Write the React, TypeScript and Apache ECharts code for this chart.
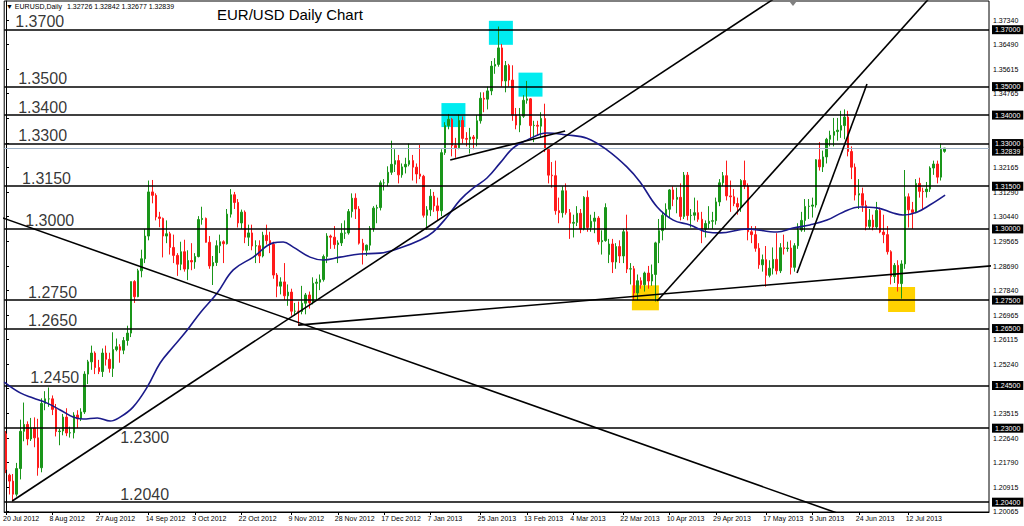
import React, { useEffect, useRef } from "react";
import * as echarts from "echarts";

// ---------- DATA ----------
const START_DATE = "2012-07-20";
const HOLIDAYS = ["2012-12-25", "2013-01-01"];
const TOTAL_SLOTS = 276; // 264 bars + empty chart shift

const DATE_LABELS = [
  "20 Jul 2012", "8 Aug 2012", "27 Aug 2012", "14 Sep 2012", "3 Oct 2012", "22 Oct 2012",
  "9 Nov 2012", "28 Nov 2012", "17 Dec 2012", "7 Jan 2013", "25 Jan 2013", "13 Feb 2013",
  "4 Mar 2013", "22 Mar 2013", "10 Apr 2013", "29 Apr 2013", "17 May 2013", "5 Jun 2013",
  "24 Jun 2013", "12 Jul 2013",
];

const Y_TICKS = [
  1.20065, 1.20915, 1.2179, 1.2264, 1.23515, 1.2439, 1.2524, 1.26115, 1.26965, 1.2784, 1.2869,
  1.29565, 1.3044, 1.3129, 1.32165, 1.33015, 1.3389, 1.34765, 1.35615, 1.3649, 1.3734,
];
// tick labels that sit fully under a level box are not printed
const Y_LABELS = [
  1.20065, 1.20915, 1.2179, 1.2264, 1.23515, 1.2524, 1.26115, 1.26965, 1.2784, 1.2869,
  1.29565, 1.3044, 1.3129, 1.32165, 1.34765, 1.35615, 1.3649, 1.3734,
];

// [open, high, low, close]
const OHLC: number[][] = [
  [1.2280, 1.2290, 1.2142, 1.2155], [1.2135, 1.2140, 1.2067, 1.2114], [1.2114, 1.2139, 1.2042, 1.2068],
  [1.2068, 1.2178, 1.2060, 1.2158], [1.2158, 1.2330, 1.2120, 1.2289], [1.2289, 1.2390, 1.2254, 1.2313],
  [1.2313, 1.2324, 1.2240, 1.2262], [1.2262, 1.2336, 1.2255, 1.2301], [1.2301, 1.2338, 1.2233, 1.2266],
  [1.2266, 1.2333, 1.2133, 1.2161], [1.2161, 1.2405, 1.2145, 1.2387], [1.2387, 1.2430, 1.2363, 1.2403],
  [1.2403, 1.2443, 1.2375, 1.2403], [1.2403, 1.2415, 1.2346, 1.2366], [1.2366, 1.2385, 1.2271, 1.2288],
  [1.2288, 1.2298, 1.2240, 1.2290], [1.2290, 1.2350, 1.2275, 1.2339], [1.2339, 1.2370, 1.2272, 1.2283],
  [1.2283, 1.2305, 1.2267, 1.2284], [1.2284, 1.2356, 1.2264, 1.2346], [1.2346, 1.2363, 1.2300, 1.2333],
  [1.2333, 1.2370, 1.2325, 1.2357], [1.2357, 1.2500, 1.2350, 1.2490], [1.2490, 1.2540, 1.2455, 1.2533],
  [1.2533, 1.2590, 1.2505, 1.2564], [1.2564, 1.2570, 1.2490, 1.2513], [1.2513, 1.2540, 1.2490, 1.2499],
  [1.2499, 1.2580, 1.2480, 1.2564], [1.2564, 1.2590, 1.2520, 1.2542], [1.2542, 1.2565, 1.2495, 1.2510],
  [1.2510, 1.2637, 1.2480, 1.2576], [1.2576, 1.2615, 1.2570, 1.2586], [1.2586, 1.2595, 1.2530, 1.2574],
  [1.2574, 1.2620, 1.2560, 1.2608], [1.2608, 1.2660, 1.2590, 1.2634], [1.2634, 1.2815, 1.2620, 1.2815],
  [1.2815, 1.2820, 1.2740, 1.2762], [1.2762, 1.2860, 1.2760, 1.2853], [1.2853, 1.2927, 1.2830, 1.2895],
  [1.2895, 1.3000, 1.2880, 1.2975], [1.2975, 1.3170, 1.2960, 1.3130], [1.3130, 1.3172, 1.3090, 1.3118],
  [1.3118, 1.3125, 1.3030, 1.3042], [1.3042, 1.3060, 1.3006, 1.3037], [1.3037, 1.3040, 1.2900, 1.2975],
  [1.2975, 1.3030, 1.2950, 1.2983], [1.2983, 1.2990, 1.2910, 1.2935], [1.2935, 1.2980, 1.2880, 1.2907],
  [1.2907, 1.2915, 1.2835, 1.2876], [1.2876, 1.2955, 1.2855, 1.2920], [1.2920, 1.2962, 1.2850, 1.2859],
  [1.2859, 1.2925, 1.2820, 1.2889], [1.2889, 1.2950, 1.2855, 1.2884], [1.2884, 1.2915, 1.2860, 1.2903],
  [1.2903, 1.3045, 1.2900, 1.3033], [1.3033, 1.3078, 1.3015, 1.3037], [1.3037, 1.3040, 1.2952, 1.2953],
  [1.2953, 1.2975, 1.2860, 1.2870], [1.2870, 1.2905, 1.2803, 1.2882], [1.2882, 1.2960, 1.2870, 1.2941],
  [1.2941, 1.2980, 1.2915, 1.2955], [1.2955, 1.2960, 1.2880, 1.2948], [1.2948, 1.3070, 1.2945, 1.3052],
  [1.3052, 1.3140, 1.3040, 1.3120], [1.3120, 1.3130, 1.3070, 1.3093], [1.3093, 1.3105, 1.3005, 1.3021],
  [1.3021, 1.3068, 1.3000, 1.3059], [1.3059, 1.3065, 1.2950, 1.2971], [1.2971, 1.3015, 1.2940, 1.2986],
  [1.2986, 1.3015, 1.2925, 1.2940], [1.2940, 1.2960, 1.2880, 1.2941], [1.2941, 1.2960, 1.2880, 1.2905],
  [1.2905, 1.2990, 1.2900, 1.2978], [1.2978, 1.3015, 1.2945, 1.2959], [1.2959, 1.2990, 1.2915, 1.2946],
  [1.2946, 1.2955, 1.2825, 1.2838], [1.2838, 1.2845, 1.2760, 1.2799], [1.2799, 1.2830, 1.2770, 1.2814],
  [1.2814, 1.2880, 1.2750, 1.2765], [1.2765, 1.2805, 1.2730, 1.2778], [1.2778, 1.2790, 1.2695, 1.2711],
  [1.2711, 1.2740, 1.2695, 1.2711], [1.2711, 1.2745, 1.2660, 1.2710], [1.2710, 1.2800, 1.2700, 1.2739],
  [1.2739, 1.2775, 1.2700, 1.2768], [1.2768, 1.2780, 1.2720, 1.2741], [1.2741, 1.2830, 1.2735, 1.2809],
  [1.2809, 1.2825, 1.2750, 1.2813], [1.2813, 1.2840, 1.2785, 1.2822], [1.2822, 1.2910, 1.2815, 1.2903],
  [1.2903, 1.2985, 1.2880, 1.2975], [1.2975, 1.2980, 1.2930, 1.2971], [1.2971, 1.3010, 1.2930, 1.2945],
  [1.2945, 1.2960, 1.2880, 1.2951], [1.2951, 1.3020, 1.2940, 1.2985], [1.2985, 1.3030, 1.2965, 1.2986],
  [1.2986, 1.3070, 1.2980, 1.3061], [1.3061, 1.3125, 1.3040, 1.3108], [1.3108, 1.3125, 1.3035, 1.3070],
  [1.3070, 1.3080, 1.2945, 1.2950], [1.2950, 1.2965, 1.2875, 1.2925], [1.2925, 1.2945, 1.2905, 1.2943],
  [1.2943, 1.3010, 1.2925, 1.3002], [1.3002, 1.3080, 1.2990, 1.3073], [1.3073, 1.3085, 1.3020, 1.3075],
  [1.3075, 1.3170, 1.3065, 1.3162], [1.3162, 1.3175, 1.3135, 1.3162], [1.3162, 1.3220, 1.3150, 1.3199],
  [1.3199, 1.3310, 1.3190, 1.3227], [1.3227, 1.3280, 1.3200, 1.3240], [1.3240, 1.3260, 1.3160, 1.3190],
  [1.3190, 1.3230, 1.3180, 1.3218], [1.3218, 1.3250, 1.3195, 1.3227], [1.3227, 1.3300, 1.3220, 1.3240],
  [1.3240, 1.3260, 1.3170, 1.3217], [1.3217, 1.3230, 1.3160, 1.3193], [1.3193, 1.3295, 1.3175, 1.3185],
  [1.3185, 1.3190, 1.3040, 1.3048], [1.3048, 1.3080, 1.2997, 1.3067], [1.3067, 1.3140, 1.3045, 1.3115],
  [1.3115, 1.3130, 1.3060, 1.3081], [1.3081, 1.3110, 1.3030, 1.3064], [1.3064, 1.3280, 1.3045, 1.3268],
  [1.3268, 1.3375, 1.3260, 1.3363], [1.3363, 1.3404, 1.3350, 1.3385], [1.3385, 1.3390, 1.3255, 1.3293],
  [1.3293, 1.3320, 1.3250, 1.3285], [1.3285, 1.3402, 1.3280, 1.3381], [1.3381, 1.3395, 1.3300, 1.3318],
  [1.3318, 1.3340, 1.3290, 1.3315], [1.3315, 1.3355, 1.3265, 1.3323], [1.3323, 1.3330, 1.3280, 1.3317],
  [1.3317, 1.3400, 1.3290, 1.3380], [1.3380, 1.3480, 1.3370, 1.3459], [1.3459, 1.3480, 1.3410, 1.3456],
  [1.3456, 1.3500, 1.3420, 1.3485], [1.3485, 1.3590, 1.3470, 1.3572], [1.3572, 1.3600, 1.3545, 1.3578],
  [1.3578, 1.3711, 1.3570, 1.3636], [1.3636, 1.3650, 1.3500, 1.3520], [1.3520, 1.3590, 1.3480, 1.3574],
  [1.3574, 1.3580, 1.3500, 1.3523], [1.3523, 1.3575, 1.3380, 1.3400], [1.3400, 1.3425, 1.3350, 1.3365],
  [1.3365, 1.3425, 1.3340, 1.3396], [1.3396, 1.3470, 1.3390, 1.3452], [1.3452, 1.3520, 1.3440, 1.3457],
  [1.3457, 1.3460, 1.3320, 1.3363], [1.3363, 1.3380, 1.3305, 1.3364], [1.3364, 1.3380, 1.3330, 1.3361],
  [1.3361, 1.3410, 1.3320, 1.3388], [1.3388, 1.3440, 1.3270, 1.3279], [1.3279, 1.3285, 1.3160, 1.3189],
  [1.3189, 1.3235, 1.3145, 1.3187], [1.3187, 1.3240, 1.3050, 1.3064], [1.3064, 1.3110, 1.3020, 1.3057],
  [1.3057, 1.3150, 1.3040, 1.3134], [1.3134, 1.3160, 1.3050, 1.3057], [1.3057, 1.3070, 1.2965, 1.3020],
  [1.3020, 1.3050, 1.2970, 1.3023], [1.3023, 1.3080, 1.3010, 1.3055], [1.3055, 1.3070, 1.2985, 1.3000],
  [1.3000, 1.3115, 1.2995, 1.3111], [1.3111, 1.3135, 1.2990, 1.3005], [1.3005, 1.3050, 1.2990, 1.3027],
  [1.3027, 1.3060, 1.2985, 1.3038], [1.3038, 1.3045, 1.2945, 1.2955], [1.2955, 1.2995, 1.2910, 1.2959],
  [1.2959, 1.3090, 1.2955, 1.3075], [1.2910, 1.2965, 1.2880, 1.2947], [1.2947, 1.2965, 1.2845, 1.2884],
  [1.2884, 1.2950, 1.2860, 1.2938], [1.2938, 1.2960, 1.2880, 1.2905], [1.2905, 1.3000, 1.2880, 1.2990],
  [1.2990, 1.3050, 1.2845, 1.2859], [1.2859, 1.2880, 1.2805, 1.2860], [1.2860, 1.2870, 1.2750, 1.2775],
  [1.2775, 1.2840, 1.2750, 1.2818], [1.2818, 1.2830, 1.2790, 1.2804], [1.2804, 1.2850, 1.2780, 1.2845],
  [1.2845, 1.2870, 1.2790, 1.2817], [1.2817, 1.2875, 1.2800, 1.2840], [1.2840, 1.2955, 1.2745, 1.2951],
  [1.2951, 1.3035, 1.2880, 1.2994], [1.2994, 1.3060, 1.2960, 1.3048], [1.3048, 1.3090, 1.3000, 1.3069],
  [1.3069, 1.3140, 1.3040, 1.3137], [1.3137, 1.3150, 1.3080, 1.3104], [1.3104, 1.3145, 1.3055, 1.3111],
  [1.3111, 1.3160, 1.3030, 1.3044], [1.3044, 1.3200, 1.3035, 1.3189], [1.3189, 1.3200, 1.3030, 1.3047],
  [1.3047, 1.3070, 1.3005, 1.3048], [1.3048, 1.3110, 1.3030, 1.3057], [1.3057, 1.3100, 1.3025, 1.3034],
  [1.3034, 1.3060, 1.2950, 1.2999], [1.2999, 1.3030, 1.2970, 1.3019], [1.3019, 1.3080, 1.3000, 1.3027],
  [1.3027, 1.3060, 1.3000, 1.3029], [1.3029, 1.3110, 1.3015, 1.3095], [1.3095, 1.3175, 1.3080, 1.3162],
  [1.3162, 1.3200, 1.3150, 1.3187], [1.3187, 1.3240, 1.3100, 1.3116], [1.3116, 1.3170, 1.3060, 1.3113],
  [1.3113, 1.3140, 1.3080, 1.3089], [1.3089, 1.3110, 1.3050, 1.3077], [1.3077, 1.3175, 1.3060, 1.3170],
  [1.3170, 1.3240, 1.3140, 1.3151], [1.3151, 1.3160, 1.2960, 1.2990], [1.2990, 1.3010, 1.2950, 1.2980],
  [1.2980, 1.3010, 1.2920, 1.2932], [1.2932, 1.2950, 1.2860, 1.2874], [1.2874, 1.2910, 1.2850, 1.2892],
  [1.2892, 1.2940, 1.2797, 1.2837], [1.2837, 1.2890, 1.2830, 1.2862], [1.2862, 1.2935, 1.2840, 1.2893],
  [1.2893, 1.2985, 1.2840, 1.2853], [1.2853, 1.2950, 1.2845, 1.2934], [1.2934, 1.2980, 1.2910, 1.2931],
  [1.2931, 1.2955, 1.2920, 1.2933], [1.2933, 1.2960, 1.2840, 1.2865], [1.2865, 1.2950, 1.2850, 1.2941],
  [1.2941, 1.3020, 1.2930, 1.2996], [1.2996, 1.3060, 1.2990, 1.3030], [1.3030, 1.3105, 1.2990, 1.3079],
  [1.3079, 1.3105, 1.3035, 1.3080], [1.3080, 1.3110, 1.3040, 1.3084], [1.3084, 1.3245, 1.3075, 1.3243],
  [1.3243, 1.3305, 1.3205, 1.3218], [1.3218, 1.3275, 1.3200, 1.3253], [1.3253, 1.3320, 1.3230, 1.3315],
  [1.3315, 1.3345, 1.3290, 1.3329], [1.3329, 1.3390, 1.3290, 1.3342], [1.3342, 1.3390, 1.3310, 1.3347],
  [1.3347, 1.3415, 1.3320, 1.3363], [1.3363, 1.3420, 1.3315, 1.3393], [1.3393, 1.3415, 1.3255, 1.3272],
  [1.3272, 1.3290, 1.3175, 1.3217], [1.3217, 1.3230, 1.3100, 1.3119], [1.3119, 1.3175, 1.3070, 1.3124],
  [1.3124, 1.3145, 1.3060, 1.3083], [1.3083, 1.3100, 1.2995, 1.3009], [1.3009, 1.3070, 1.3000, 1.3031],
  [1.3031, 1.3050, 1.2995, 1.3007], [1.3007, 1.3095, 1.3000, 1.3065], [1.3065, 1.3075, 1.2985, 1.2989],
  [1.2989, 1.3050, 1.2950, 1.2980], [1.2980, 1.3010, 1.2910, 1.2920], [1.2920, 1.2925, 1.2805, 1.2833],
  [1.2833, 1.2880, 1.2810, 1.2872], [1.2872, 1.2890, 1.2780, 1.2808], [1.2808, 1.2890, 1.2755, 1.2877],
  [1.2877, 1.3207, 1.2860, 1.3113], [1.3113, 1.3125, 1.3005, 1.3067], [1.3067, 1.3095, 1.3000, 1.3058],
  [1.3058, 1.3175, 1.3055, 1.3160], [1.3160, 1.3180, 1.3110, 1.3132], [1.3132, 1.3145, 1.3070, 1.3131],
  [1.3131, 1.3165, 1.3110, 1.3140], [1.3140, 1.3220, 1.3130, 1.3214], [1.3214, 1.3240, 1.3190, 1.3228],
  [1.3228, 1.3240, 1.3160, 1.3182], [1.3182, 1.3300, 1.3170, 1.3280], [1.32726, 1.32842, 1.32677, 1.32839],
];

// Moving average (bar position, price)
const MA_X = [
  -0.5, 4, 7.6, 11.5, 15.2, 18.8, 21.6, 25.6, 29.2, 32, 35.6, 39.6, 43.2, 46.8, 50.8, 54.4, 59.2, 63.7,
  69.3, 74.9, 77.7, 80.5, 85.2, 88.9, 93.6, 99.2, 104.8, 110.4, 116.1, 119.7, 123.6, 127.3, 131, 134.8,
  138.5, 142.1, 146, 151.6, 157.2, 162.8, 168.5, 174, 177.7, 182.5, 187, 191.7, 196.5, 200.1, 207.7,
  216.1, 220.6, 225.3, 230.1, 234.6, 239.3, 244.1, 248.6, 251.4, 255.3, 258.9, 263.2,
];
const MA_Y = [
  1.2462, 1.2424, 1.2406, 1.2388, 1.2364, 1.2339, 1.2332, 1.2336, 1.2325, 1.2339, 1.2374, 1.2445,
  1.2529, 1.2585, 1.2645, 1.2705, 1.2775, 1.2856, 1.2901, 1.2951, 1.2954, 1.2936, 1.2901, 1.2891,
  1.2901, 1.2912, 1.2915, 1.2933, 1.2961, 1.2989, 1.3042, 1.3102, 1.3144, 1.3179, 1.3232, 1.3284,
  1.3312, 1.3337, 1.3330, 1.3319, 1.3277, 1.3218, 1.3165, 1.3077, 1.3031, 1.3014, 1.2989, 1.2986,
  1.3000, 1.2989, 1.3003, 1.3014, 1.3031, 1.3059, 1.3077, 1.3074, 1.3056, 1.3049, 1.3059, 1.3084, 1.3119,
];

const LEVELS = [1.37, 1.35, 1.34, 1.33, 1.315, 1.3, 1.275, 1.265, 1.245, 1.23, 1.204];
const LEVEL_TEXT = ["1.3700", "1.3500", "1.3400", "1.3300", "1.3150", "1.3000", "1.2750", "1.2650", "1.2450", "1.2300", "1.2040"];
const LEVEL_LABEL_X = [2.6, 3.4, 3.4, 3.4, 4.5, 5.4, 6.2, 6.2, 6.8, 32, 32];
const LEVEL_LABEL_BELOW = [false, false, false, false, false, false, false, false, false, true, false];

const LAST_PRICE = 1.32839;

// Trendlines: [bar1, price1, bar2, price2]
const TRENDLINES = [
  [1.74, 1.2044, 218.9, 1.3839],
  [-1.63, 1.3042, 236.5, 1.1986],
  [81.9, 1.2662, 278.5, 1.2873],
  [182.5, 1.2747, 260.8, 1.3839],
  [221.7, 1.2845, 241.3, 1.3509],
  [124.5, 1.3242, 156.7, 1.3344],
];

const CYAN_BOXES = [[125.4, 1.34], [138.7, 1.3689], [147.0, 1.3507]];
const YELLOW_BOXES = [[179.2, 1.2758], [251.0, 1.2752]];

// ---------- HELPERS ----------
const MONTHS = ["Jan", "Feb", "Mar", "Apr", "May", "Jun", "Jul", "Aug", "Sep", "Oct", "Nov", "Dec"];
function buildDates(): string[] {
  const out: string[] = [];
  const d = new Date(START_DATE + "T00:00:00Z");
  while (out.length < TOTAL_SLOTS) {
    const dow = d.getUTCDay();
    const iso = d.toISOString().slice(0, 10);
    if (dow !== 0 && dow !== 6 && HOLIDAYS.indexOf(iso) < 0) {
      out.push(`${d.getUTCDate()} ${MONTHS[d.getUTCMonth()]} ${d.getUTCFullYear()}`);
    }
    d.setUTCDate(d.getUTCDate() + 1);
  }
  return out;
}

const FONT = "Arial, 'Liberation Sans', sans-serif";

export default function App() {
  const ref = useRef<HTMLDivElement>(null);
  useEffect(() => {
    if (!ref.current) return;
    const chart = echarts.init(ref.current, null, { renderer: "svg" });
    const dates = buildDates();
    const labelSet = new Set(DATE_LABELS);
    const candleData = OHLC.map((r) => [r[0], r[3], r[2], r[1]]);
    const maData = MA_X.map((x, i) => [x, MA_Y[i]]);

    const trendSeries = TRENDLINES.map((t, i) => ({
      type: "line",
      name: "trend" + i,
      xAxisIndex: 1,
      yAxisIndex: 0,
      data: [
        [t[0], t[1]],
        [t[2], t[3]],
      ],
      symbol: "none",
      clip: true,
      silent: true,
      z: 6,
      lineStyle: { color: "#000", width: 1.6 },
    }));

    const levelLines = [
      {
        yAxis: LAST_PRICE,
        lineStyle: { color: "#9fb3c8", width: 1 },
        label: { offset: [0, 3] },
      },
      ...LEVELS.map((v) => ({ yAxis: v })),
    ];

    const option: any = {
      animation: false,
      backgroundColor: "#fff",
      grid: {
        left: 4,
        right: 35,
        top: 1,
        bottom: 14,
        show: true,
        borderColor: "#000",
        borderWidth: 1,
        backgroundColor: "#fff",
      },
      xAxis: [
        {
          type: "category",
          data: dates,
          boundaryGap: true,
          axisLine: { show: true, lineStyle: { color: "#000", width: 1 } },
          axisTick: {
            show: true,
            alignWithLabel: true,
            length: 3,
            interval: (_i: number, v: string) => labelSet.has(v),
            lineStyle: { color: "#000" },
          },
          axisLabel: {
            show: true,
            interval: (_i: number, v: string) => labelSet.has(v),
            fontSize: 7,
            fontFamily: FONT,
            color: "#000",
            align: "left",
            margin: 3,
            padding: [0, 0, 0, -3],
          },
          splitLine: { show: false },
        },
        {
          type: "value",
          min: -0.5,
          max: TOTAL_SLOTS - 0.5,
          show: false,
          splitLine: { show: false },
        },
      ],
      yAxis: {
        type: "value",
        position: "right",
        min: 1.20055,
        max: 1.38008,
        axisLine: { show: true, lineStyle: { color: "#000", width: 1 } },
        axisTick: { show: true, length: 3, customValues: Y_TICKS, lineStyle: { color: "#000" } },
        axisLabel: {
          show: true,
          customValues: Y_LABELS,
          formatter: (v: number) => v.toFixed(5),
          fontSize: 7,
          fontFamily: FONT,
          color: "#000",
          margin: 4,
        },
        splitLine: { show: false },
      },
      graphic: [
        {
          type: "text",
          left: 6,
          top: 3,
          style: { text: "▼ EURUSD,Daily", fontSize: 7, fontFamily: FONT, fill: "#000" },
        },
        {
          type: "text",
          left: 67,
          top: 3,
          style: { text: "1.32726 1.32842 1.32677 1.32839", fontSize: 7, fontFamily: FONT, fill: "#000" },
        },
        {
          type: "text",
          left: 217,
          top: 7,
          style: { text: "EUR/USD Daily Chart", fontSize: 15, fontFamily: FONT, fill: "#000" },
        },
        {
          type: "polygon",
          shape: { points: [[789, 1], [797, 1], [793, 6]] },
          style: { fill: "#808080" },
        },
      ],
      series: [
        {
          type: "scatter",
          name: "cyan",
          xAxisIndex: 1,
          data: CYAN_BOXES,
          symbol: "rect",
          symbolSize: [24, 24],
          itemStyle: { color: "#00ecf0", opacity: 1 },
          silent: true,
          z: 1,
        },
        {
          type: "scatter",
          name: "yellow",
          xAxisIndex: 1,
          data: YELLOW_BOXES,
          symbol: "rect",
          symbolSize: [27, 25],
          itemStyle: { color: "#ffd200", opacity: 1 },
          silent: true,
          z: 1,
        },
        {
          type: "candlestick",
          name: "EURUSD",
          xAxisIndex: 0,
          data: candleData,
          barWidth: 2,
          z: 3,
          itemStyle: {
            color: "#1a961a",
            color0: "#ff1a1a",
            borderColor: "#1a961a",
            borderColor0: "#ff1a1a",
            borderWidth: 1,
          },
          markLine: {
            silent: true,
            symbol: ["none", "none"],
            precision: 5,
            lineStyle: { color: "#000", width: 1.6, type: "solid" },
            label: {
              show: true,
              position: "end",
              distance: 3,
              formatter: (p: any) => Number(p.value).toFixed(5),
              color: "#fff",
              backgroundColor: "#000",
              fontSize: 7,
              fontFamily: FONT,
              padding: [1, 3, 1, 3],
            },
            emphasis: { disabled: true },
            data: levelLines,
          },
        },
        {
          type: "line",
          name: "MA",
          xAxisIndex: 1,
          data: maData,
          symbol: "none",
          smooth: 0.4,
          silent: true,
          z: 5,
          lineStyle: { color: "#1a1a8a", width: 1.6 },
        },
        ...trendSeries,
        {
          type: "scatter",
          name: "levelLabels",
          xAxisIndex: 1,
          symbolSize: 0,
          silent: true,
          z: 7,
          data: LEVELS.map((v, i) => ({
            value: [LEVEL_LABEL_X[i], v],
            label: {
              show: true,
              formatter: LEVEL_TEXT[i],
              position: [0, LEVEL_LABEL_BELOW[i] ? 1 : 0],
              align: "left",
              verticalAlign: LEVEL_LABEL_BELOW[i] ? "top" : "bottom",
              fontSize: 16,
              fontFamily: FONT,
              color: "#000",
            },
          })),
        },
      ],
    };
    chart.setOption(option);
    return () => chart.dispose();
  }, []);
  return <div ref={ref} style={{ width: 1024, height: 526, position: "absolute", left: 0, top: 0 }} />;
}
